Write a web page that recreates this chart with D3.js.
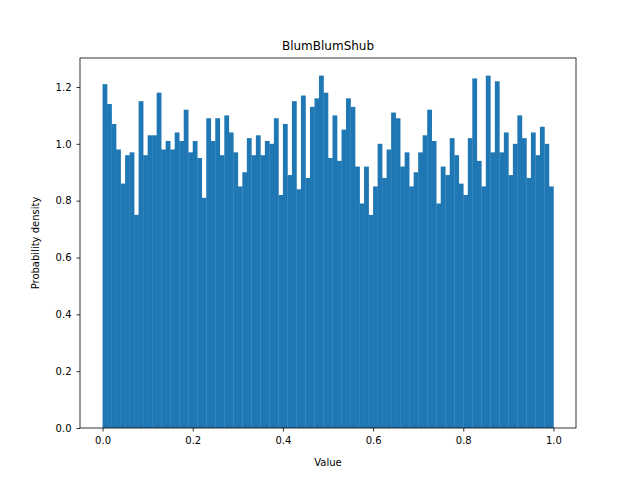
<!DOCTYPE html>
<html lang="en">
<head>
<meta charset="UTF-8">
<title>BlumBlumShub</title>
<style>
    body { margin: 0; background: #fff; }
    text { font-family: "DejaVu Sans", sans-serif; }
</style>
</head>
<body>
<script src="https://cdn.jsdelivr.net/npm/d3@7/dist/d3.min.js"></script>
<script>
var densities = [
    1.21,1.14,1.07,0.98,0.86,0.96,0.97,0.75,1.15,0.96,
    1.03,1.03,1.18,0.98,1.01,0.98,1.04,1.01,1.12,0.97,
    1.01,0.95,0.81,1.09,1.01,1.09,0.96,1.10,1.04,0.97,
    0.85,0.90,1.02,0.96,1.03,0.96,1.01,1.00,1.09,0.82,
    1.07,0.89,1.15,0.84,1.17,0.88,1.13,1.16,1.24,1.18,
    0.95,1.10,0.94,1.05,1.16,1.13,0.92,0.79,0.92,0.75,
    0.85,1.00,0.88,0.98,1.11,1.09,0.92,0.97,0.85,0.90,
    0.97,1.03,1.12,1.01,0.79,0.92,0.89,1.02,0.96,0.86,
    0.82,1.02,1.23,0.94,0.85,1.24,0.97,1.22,0.97,1.04,
    0.89,1.00,1.10,1.02,0.88,1.04,0.96,1.06,1.00,0.85
];
var xTicks = [0, 0.2, 0.4, 0.6, 0.8, 1.0];
var yTicks = [0, 0.2, 0.4, 0.6, 0.8, 1.0, 1.2];

var w = 640, h = 480;
var m = {left: 80, right: 64, top: 58, bottom: 52};
var nBins = densities.length;

var svg = d3.select("body").append("svg").attr("width", w).attr("height", h);

var x = d3.scaleLinear().domain([-0.05, 1.05]).range([m.left, w - m.right]);
var y = d3.scaleLinear().domain([0, 1.302]).range([h - m.bottom, m.top]);

svg.selectAll("rect.bar").data(densities).enter().append("rect")
    .attr("class", "bar")
    .attr("x", function (d, i) { return x(i / nBins); })
    .attr("width", function (d, i) { return x((i + 1) / nBins) - x(i / nBins) + 0.3; })
    .attr("y", function (d) { return y(d); })
    .attr("height", function (d) { return y(0) - y(d); })
    .attr("fill", "#1f77b4");

var xAxis = svg.append("g").attr("transform", "translate(0," + (h - m.bottom) + ")")
    .call(d3.axisBottom(x).tickValues(xTicks).tickFormat(d3.format(".1f")).tickSizeOuter(0).tickSize(3.5).tickPadding(5));
var yAxis = svg.append("g").attr("transform", "translate(" + m.left + ",0)")
    .call(d3.axisLeft(y).tickValues(yTicks).tickFormat(d3.format(".1f")).tickSizeOuter(0).tickSize(3.5).tickPadding(5));
[xAxis, yAxis].forEach(function (g) {
    g.select(".domain").remove();
    g.selectAll("text").attr("font-size", "10px").attr("fill", "#000")
        .style("font-family", "DejaVu Sans, sans-serif");
    g.selectAll("line").attr("stroke", "#000").attr("stroke-width", 0.8);
});

svg.append("rect")
    .attr("x", m.left).attr("y", m.top)
    .attr("width", w - m.left - m.right).attr("height", h - m.top - m.bottom)
    .attr("fill", "none").attr("stroke", "#000").attr("stroke-width", 0.8);

svg.append("text").attr("x", (m.left + w - m.right) / 2).attr("y", m.top - 8)
    .attr("text-anchor", "middle").attr("font-size", "12px").text("BlumBlumShub");
svg.append("text").attr("x", (m.left + w - m.right) / 2).attr("y", h - 14)
    .attr("text-anchor", "middle").attr("font-size", "10px").text("Value");
svg.append("text").attr("transform", "translate(39," + ((m.top + h - m.bottom) / 2) + ") rotate(-90)")
    .attr("text-anchor", "middle").attr("font-size", "10px").text("Probability density");
</script>
</body>
</html>
